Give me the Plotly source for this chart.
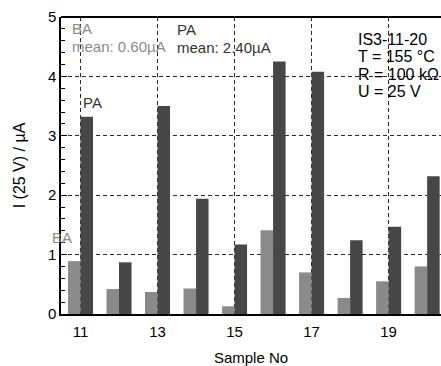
import plotly.graph_objects as go

# Leakage current of each sample at U = 25 V (µA)
samples = [11, 12, 13, 14, 15, 16, 17, 18, 19, 20]
ba_current = [0.89, 0.42, 0.37, 0.43, 0.13, 1.41, 0.70, 0.27, 0.55, 0.80]
pa_current = [3.32, 0.87, 3.50, 1.94, 1.17, 4.25, 4.08, 1.24, 1.47, 2.32]

x_tick_vals = [11, 13, 15, 17, 19]
x_tick_text = ["11", "13", "15", "17", "19"]
y_tick_vals = [0, 1, 2, 3, 4, 5]
y_tick_text = ["0", "1", "2", "3", "4", "5"]

info_lines = ["IS3-11-20", "T = 155 °C", "R = 100 kΩ", "U = 25 V"]

FONT = "Liberation Sans, Arial, sans-serif"
BA_COLOR = "#8a8a8a"
PA_COLOR = "#474747"
GRID = "#2a2a2a"

W, H = 441, 366
L, R, T, B = 61, 0, 17, 52


def px_to_paper(px, py):
    return (px - L) / (W - L - R), (H - B - py) / (H - T - B)


fig = go.Figure()
fig.add_trace(go.Bar(x=samples, y=ba_current, name="BA",
                     marker=dict(color=BA_COLOR, line=dict(width=0))))
fig.add_trace(go.Bar(x=samples, y=pa_current, name="PA",
                     marker=dict(color=PA_COLOR, line=dict(width=0))))

annotations = []


def label(text, px, py, color, size=15):
    xp, yp = px_to_paper(px, py)
    annotations.append(dict(text=text, x=xp, y=yp, xref="paper", yref="paper",
                            xanchor="left", yanchor="middle", showarrow=False,
                            font=dict(family=FONT, size=size, color=color)))


label("BA", 70, 28, BA_COLOR)
label("mean: 0.60µA", 70, 46, BA_COLOR)
label("PA", 175, 29, "#333333")
label("mean: 2.40µA", 175, 47, "#333333")
label("PA", 81, 102, "#333333")
label("BA", 50, 237, BA_COLOR)
for i, line in enumerate(info_lines):
    label(line, 356, 39 + 17.5 * i, "#000000", size=16)

fig.update_layout(
    width=W, height=H,
    margin=dict(l=L, r=R, t=T, b=B, pad=0),
    paper_bgcolor="white", plot_bgcolor="white",
    barmode="group", bargap=0.35, bargroupgap=0,
    showlegend=False,
    font=dict(family=FONT, size=15, color="black"),
    annotations=annotations,
    shapes=[dict(type="line", xref="paper", yref="paper", x0=0, x1=1, y0=1, y1=1,
                 line=dict(color="black", width=2))],
)

fig.update_xaxes(
    range=[10.494, 20.36],
    tickvals=x_tick_vals, ticktext=x_tick_text,
    showgrid=True, gridcolor=GRID, gridwidth=1, griddash="4px,3px",
    showline=True, linecolor="black", linewidth=1.5,
    ticks="", ticklabelstandoff=3, tickfont=dict(size=15, color="black"),
    title=dict(text="Sample No", font=dict(size=15, color="black"), standoff=14),
    zeroline=False,
)

fig.update_yaxes(
    range=[0, 5],
    tickvals=y_tick_vals, ticktext=y_tick_text,
    showgrid=True, gridcolor=GRID, gridwidth=1, griddash="4px,3px",
    showline=True, linecolor="black", linewidth=1.5,
    ticks="inside", ticklen=6, tickcolor="black",
    minor=dict(dtick=0.2, ticks="inside", ticklen=4, tickcolor="black", showgrid=False),
    tickfont=dict(size=15, color="black"),
    title=dict(text="I (25 V) / µA", font=dict(size=16, color="black"), standoff=18),
    zeroline=False,
)

fig.write_html("out.html")
